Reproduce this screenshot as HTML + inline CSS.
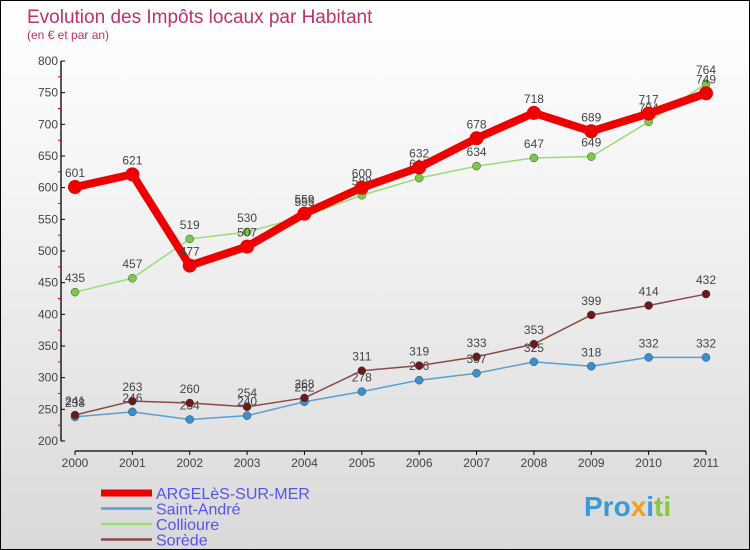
<!DOCTYPE html>
<html><head><meta charset="utf-8"><style>
html,body{margin:0;padding:0}
body{width:750px;height:550px;overflow:hidden;font-family:"Liberation Sans",sans-serif}
#wrap{position:relative;width:748px;height:548px;border:1px solid #000;background:linear-gradient(#fff,#f2f2f2 40%,#d9d9d9)}
</style></head><body>
<div id="wrap">
<svg id="chart" width="748" height="548" style="position:absolute;left:0;top:0">
<text x="26" y="22" font-size="19" fill="#c0306a">Evolution des Impôts locaux par Habitant</text>
<text x="26" y="38" font-size="12" fill="#c0306a">(en € et par an)</text>
<g id="axes"></g>
<g id="series"></g>
<g id="legend"></g>
<text x="583" y="515" font-size="28" font-weight="bold" fill="#3a9ad8">Pro<tspan fill="#f0a020">x</tspan><tspan fill="#3a9ad8">i</tspan><tspan fill="#8cc63f">ti</tspan></text>
</svg>
</div>
<script>
const years=[2000,2001,2002,2003,2004,2005,2006,2007,2008,2009,2010,2011];
const yTicks=[200,250,300,350,400,450,500,550,600,650,700,750,800];
const argeles=[601,621,477,507,559,600,632,678,718,689,717,749];
const saintAndre=[238,246,234,240,262,278,296,307,325,318,332,332];
const collioure=[435,457,519,530,555,588,615,634,647,649,704,764];
const sorede=[241,263,260,254,268,311,319,333,353,399,414,432];
const NS='http://www.w3.org/2000/svg';
const X=i=>74+i*(705-74)/11;
const Y=v=>440-(v-200)*(440-60)/600;
function mk(tag,attrs,parent,text){const e=document.createElementNS(NS,tag);for(const k in attrs)e.setAttribute(k,attrs[k]);if(text!==undefined)e.textContent=text;parent.appendChild(e);return e;}
const ax=document.getElementById('axes');
let a=mk('line',{x1:60,y1:60,x2:60,y2:440,stroke:'#000','stroke-width':1.3},ax);


yTicks.forEach((t,i)=>{
 mk('line',{x1:60,y1:Y(t),x2:64,y2:Y(t),stroke:'#000'},ax);
 if(i<yTicks.length-1){mk('line',{x1:57,y1:Y(t+25),x2:60,y2:Y(t+25),stroke:'#e00'},ax);}
 const l=mk('text',{x:57,y:Y(t)+4,'font-size':12,fill:'#444','text-anchor':'end'},ax,t);
 
 
});
a=mk('line',{x1:74,y1:450,x2:705,y2:450,stroke:'#000','stroke-width':1.3},ax);


years.forEach((yr,i)=>{
 mk('line',{x1:X(i),y1:450,x2:X(i),y2:454,stroke:'#000'},ax);
 const l=mk('text',{x:X(i),y:466,'font-size':12,fill:'#444','text-anchor':'middle'},ax,yr);
 
 
});
const series=[
 {name:'Saint-André',data:saintAndre,color:'#5a9fd0',dot:'#3a8fd0',w:1.5,r:4,key:'saint-andre'},
 {name:'Sorède',data:sorede,color:'#8a4a4a',dot:'#6a1a1a',w:1.5,r:4,key:'sorede'},
 {name:'Collioure',data:collioure,color:'#99dd77',dot:'#77cc44',w:1.5,r:4,key:'collioure'},
 {name:'ARGELèS-SUR-MER',data:argeles,color:'#ee0000',dot:'#ee0000',w:8,r:7,key:'argeles'}
];
const sg=document.getElementById('series');
series.forEach(s=>{
 const g=mk('g',{},sg);
 
 
 const pl=mk('polyline',{points:s.data.map((v,i)=>X(i)+','+Y(v)).join(' '),fill:'none',stroke:s.color,'stroke-width':s.w,'stroke-linejoin':'round'},g);
 
 
 s.data.forEach((v,i)=>{
  const c=mk('circle',{cx:X(i),cy:Y(v),r:s.r,fill:s.dot,stroke:s.w>2?'none':'#444','stroke-width':0.5},g);
  
  
  const t=mk('text',{x:X(i),y:Y(v)-10,'font-size':12,fill:'#444','text-anchor':'middle'},g,v);
  
  
 });
});
const lg=document.getElementById('legend');
const leg=[series[3],series[0],series[2],series[1]];
leg.forEach((s,i)=>{
 const y=492+i*15.5;
 const g=mk('g',{},lg);
 
 
 mk('line',{x1:100,y1:y,x2:151,y2:y,stroke:s.color,'stroke-width':s.w>2?7:2.5},g);
 mk('text',{x:155,y:y+6,'font-size':16,fill:'#5555ee'},g,s.name);
});
</script>
</body></html>
